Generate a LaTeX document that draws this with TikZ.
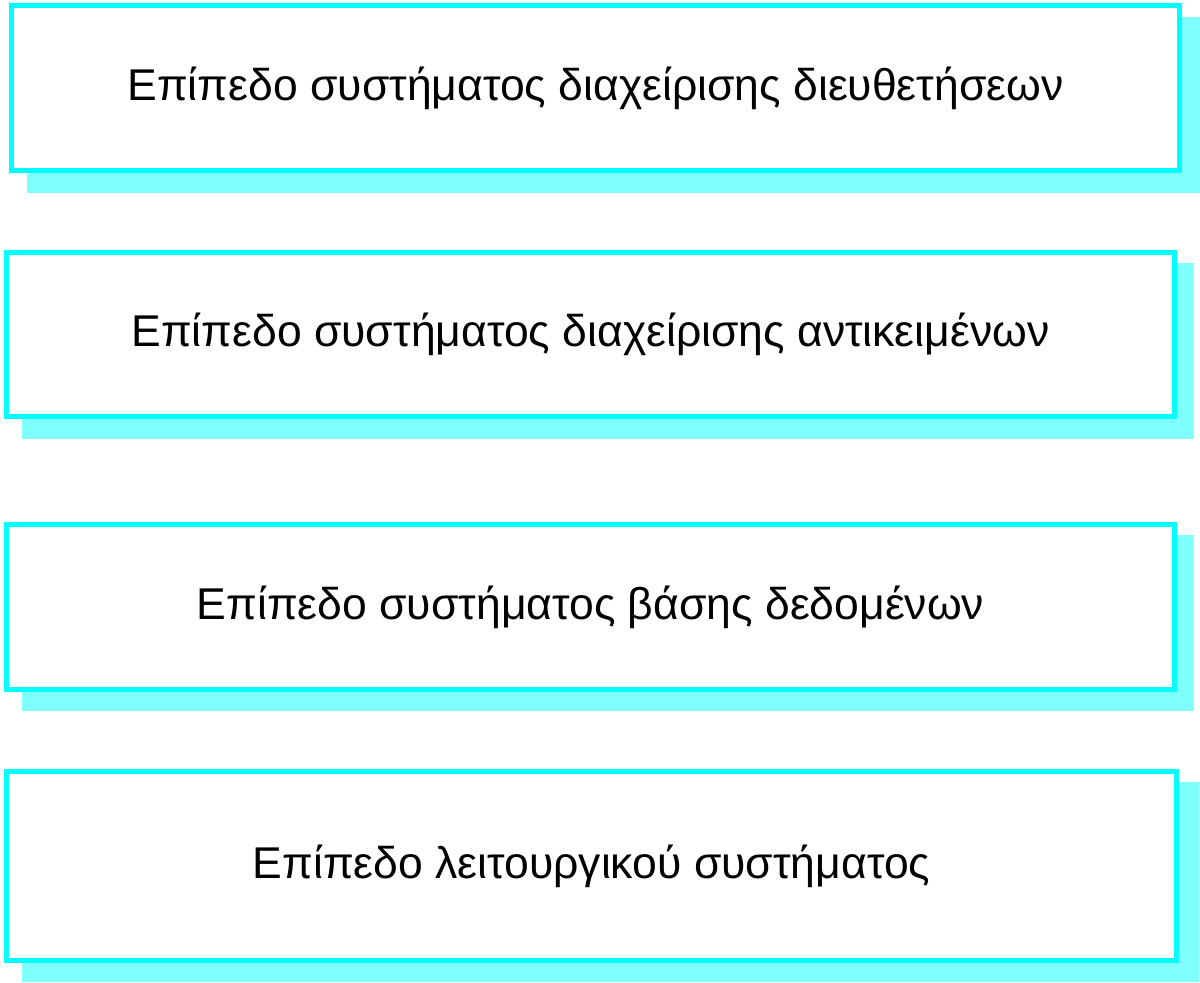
\documentclass[tikz,border=0pt]{standalone}
\usepackage{fontspec}
\setmainfont{Liberation Sans}
\definecolor{cyanline}{RGB}{0,255,255}
\definecolor{cyanshadow}{RGB}{128,255,255}
\tikzset{
  layerbox/.style={draw=cyanline, line width=5pt, fill=white, inner sep=0pt, font=\fontsize{44.5}{52}\selectfont, text=black},
  shadowfill/.style={fill=cyanshadow, draw=none}
}
\begin{document}
\begin{tikzpicture}[x=1pt,y=-1pt]
\useasboundingbox (0,0) rectangle (1200,983);
\fill[shadowfill] (27,17) rectangle (1200,193);
\fill[shadowfill] (22,263) rectangle (1194,439);
\fill[shadowfill] (22,535) rectangle (1194,711);
\fill[shadowfill] (22,782) rectangle (1199,982);
\node[layerbox, minimum width=1168pt, minimum height=165pt] (l1) at (595.5,88) {Επίπεδο συστήματος διαχείρισης διευθετήσεων};
\node[layerbox, minimum width=1168pt, minimum height=164pt] (l2) at (590.5,334.5) {Επίπεδο συστήματος διαχείρισης αντικειμένων};
\node[layerbox, minimum width=1168pt, minimum height=165pt] (l3) at (590.5,607) {Επίπεδο συστήματος βάσης δεδομένων};
\node[layerbox, minimum width=1170pt, minimum height=189pt] (l4) at (591.5,866) {Επίπεδο λειτουργικού συστήματος};
\end{tikzpicture}
\end{document}
